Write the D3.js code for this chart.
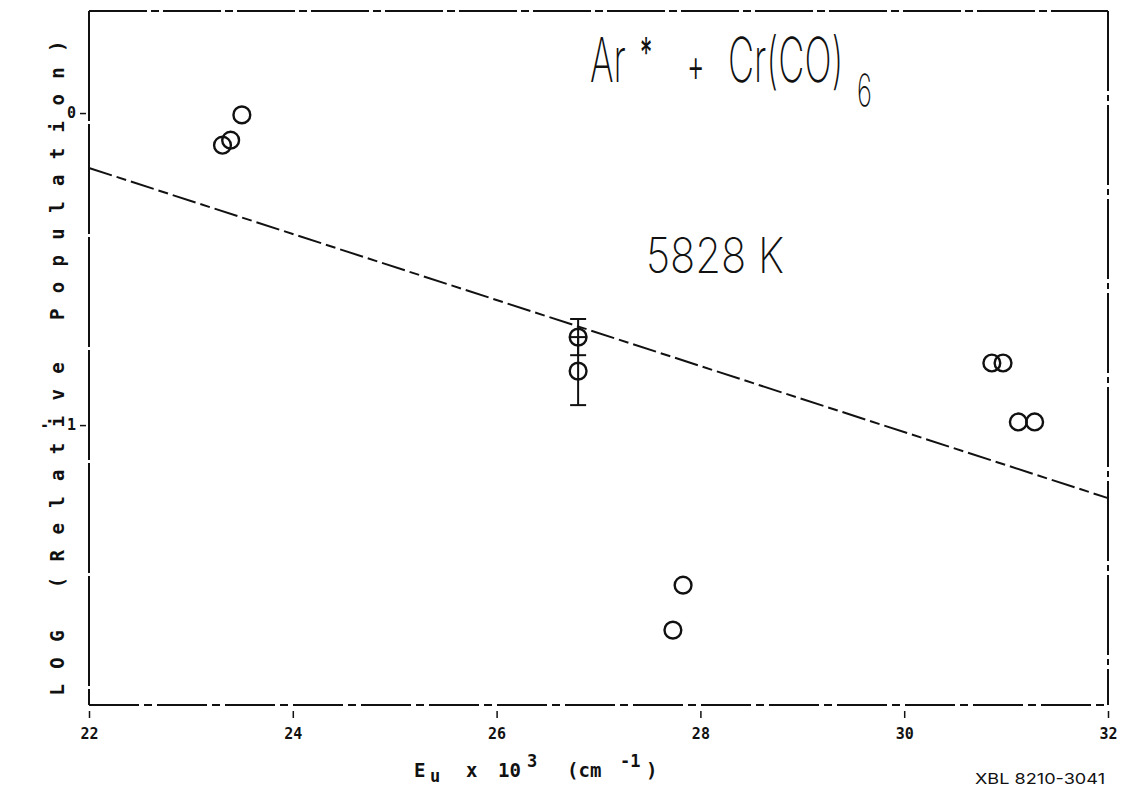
<!DOCTYPE html>
<html>
<head>
<meta charset="utf-8">
<script src="https://cdn.jsdelivr.net/npm/d3@7/dist/d3.min.js"></script>
<style>
  html, body { margin: 0; padding: 0; background: #fff; }
  svg { display: block; }
</style>
</head>
<body>
<svg id="chart" width="1122" height="795"></svg>
<script>
// Boltzmann plot: log of relative population vs upper-state energy
const xTicks = [22, 24, 26, 28, 30, 32];
const xTickLabels = ["22", "24", "26", "28", "30", "32"];
const yTicks = [0, -1];
const yTickLabels = ["0", "-  1"];

// measured points (Eu in 10^3 cm^-1, log relative population)
const pointX = [23.50, 23.39, 23.31, 26.80, 26.80, 30.86, 30.97, 31.12, 31.28, 27.83, 27.73];
const pointY = [-0.006, -0.087, -0.103, -0.718, -0.827, -0.801, -0.801, -0.990, -0.990, -1.513, -1.657];

// error bars on the two 26.8 points
const errX = [26.80, 26.80];
const errY = [-0.718, -0.827];
const errSize = [0.058, 0.109];

// least-squares fit line (T = 5828 K)
const fitX = [22, 32];
const fitY = [-0.176, -1.234];

const margin = { left: 89, top: 11 };
const plotW = 1108 - margin.left;
const plotH = 705 - margin.top;

const svg = d3.select("#chart");
const g = svg.append("g").attr("transform", `translate(${margin.left},${margin.top})`);

const x = d3.scaleLinear().domain([22, 32]).range([0, plotW]);
const y = d3.scaleLinear().domain([0.327, -1.897]).range([0, plotH]);

const ink = "#111";
const monoFont = "'DejaVu Sans Mono', 'Liberation Mono', monospace";
const plotFont = "Inter, 'DejaVu Sans', sans-serif";

// frame
const frame = g.append("g").attr("fill", "none").attr("stroke", ink).attr("stroke-width", 2);
frame.append("line").attr("x1", 0).attr("x2", plotW).attr("y1", 0).attr("y2", 0)
  .attr("stroke-dasharray", "58,4,8,4");
frame.append("line").attr("x1", 0).attr("x2", plotW).attr("y1", plotH).attr("y2", plotH)
  .attr("stroke-dasharray", "50,5,8,5");
frame.append("line").attr("x1", 0).attr("x2", 0).attr("y1", 0).attr("y2", plotH)
  .attr("stroke-dasharray", "110,3");
frame.append("line").attr("x1", plotW).attr("x2", plotW).attr("y1", 0).attr("y2", plotH)
  .attr("stroke-dasharray", "80,4,6,4");

// x axis
const xAxis = d3.axisBottom(x)
  .tickValues(xTicks)
  .tickFormat((d, i) => xTickLabels[i])
  .tickSize(7)
  .tickPadding(10);
const gx = g.append("g").attr("transform", `translate(0,${plotH + 6})`).call(xAxis);
gx.select(".domain").remove();
gx.selectAll(".tick line").attr("stroke", ink).attr("stroke-width", 1.5);
gx.selectAll(".tick text").attr("fill", ink)
  .style("font-family", monoFont).style("font-size", "15px").style("font-weight", "bold");

// y axis
const yAxis = d3.axisLeft(y)
  .tickValues(yTicks)
  .tickFormat((d, i) => yTickLabels[i])
  .tickSize(6)
  .tickPadding(4);
const gy = g.append("g").attr("transform", "translate(-3,0)").call(yAxis);
gy.select(".domain").remove();
gy.selectAll(".tick line").attr("stroke", ink).attr("stroke-width", 1.5);
gy.selectAll(".tick text").attr("fill", ink)
  .style("font-family", monoFont).style("font-size", "15px").style("font-weight", "bold")
  .style("white-space", "pre");

// fit line
g.append("path")
  .datum(fitX.map((d, i) => [d, fitY[i]]))
  .attr("d", d3.line().x(d => x(d[0])).y(d => y(d[1])))
  .attr("fill", "none").attr("stroke", ink).attr("stroke-width", 2)
  .attr("stroke-dasharray", "24,5,10,5");

// error bars
const eb = g.append("g").attr("stroke", ink).attr("stroke-width", 2);
errX.forEach((ex, i) => {
  const cx = x(ex), y0 = y(errY[i] + errSize[i]), y1 = y(errY[i] - errSize[i]);
  eb.append("line").attr("x1", cx).attr("x2", cx).attr("y1", y0).attr("y2", y1);
  eb.append("line").attr("x1", cx - 8).attr("x2", cx + 8).attr("y1", y0).attr("y2", y0);
  eb.append("line").attr("x1", cx - 8).attr("x2", cx + 8).attr("y1", y1).attr("y2", y1);
});

// data points
g.append("g").selectAll("circle")
  .data(pointX.map((d, i) => [d, pointY[i]]))
  .join("circle")
  .attr("cx", d => x(d[0])).attr("cy", d => y(d[1]))
  .attr("r", 8.4)
  .attr("fill", "none").attr("stroke", ink).attr("stroke-width", 2.4);

// title: Ar* + Cr(CO)6, drawn in a horizontally condensed frame
const sx = 0.58;
const title = svg.append("text")
  .attr("transform", `scale(${sx},1)`)
  .attr("font-family", plotFont).attr("font-weight", 200).attr("fill", ink)
  .style("white-space", "pre");
title.append("tspan").attr("x", 590 / sx).attr("y", 82).attr("font-size", 62).text("Ar");
title.append("tspan").attr("x", 640 / sx).attr("y", 68).attr("font-size", 42).attr("font-weight", 400).text("*");
title.append("tspan").attr("x", 687 / sx).attr("y", 82).attr("font-size", 46).attr("font-weight", 300).text("+");
title.append("tspan").attr("x", 728 / sx).attr("y", 82).attr("font-size", 62).text("Cr(CO)");
title.append("tspan").attr("x", 857 / sx).attr("y", 106).attr("font-size", 44).text("6");

// temperature annotation
svg.append("text").attr("x", 646).attr("y", 273)
  .attr("font-family", plotFont).attr("font-weight", 200).attr("fill", ink)
  .attr("font-size", 49)
  .attr("textLength", 138).attr("lengthAdjust", "spacingAndGlyphs").text("5828 K");

// y-axis title
svg.append("text")
  .attr("transform", "translate(64,368) rotate(-90)")
  .attr("text-anchor", "middle")
  .attr("font-family", monoFont).attr("font-size", 19).attr("font-weight", "bold").attr("fill", ink)
  .attr("textLength", 655).attr("lengthAdjust", "spacing")
  .text("LOG (Relative Population)");

// x-axis title: Eu x 10^3 (cm^-1)
const xt = svg.append("text").attr("font-family", monoFont)
  .attr("font-weight", "bold").attr("fill", ink);
const xParts = [
  { s: "E", x: 414, y: 777, fs: 19 },
  { s: "u", x: 430, y: 782, fs: 17 },
  { s: "x", x: 466, y: 777, fs: 19 },
  { s: "10", x: 498, y: 777, fs: 19 },
  { s: "3", x: 527, y: 767, fs: 17 },
  { s: "(cm", x: 567, y: 777, fs: 19 },
  { s: "-1", x: 620, y: 767, fs: 17 },
  { s: ")", x: 646, y: 777, fs: 19 }
];
xParts.forEach(p => {
  xt.append("tspan").attr("x", p.x).attr("y", p.y).attr("font-size", p.fs).text(p.s);
});

// figure code
svg.append("text").attr("x", 975).attr("y", 784)
  .attr("font-family", plotFont).attr("font-size", 15).attr("fill", ink)
  .attr("textLength", 130).attr("lengthAdjust", "spacingAndGlyphs")
  .text("XBL 8210-3041");
</script>
</body>
</html>
